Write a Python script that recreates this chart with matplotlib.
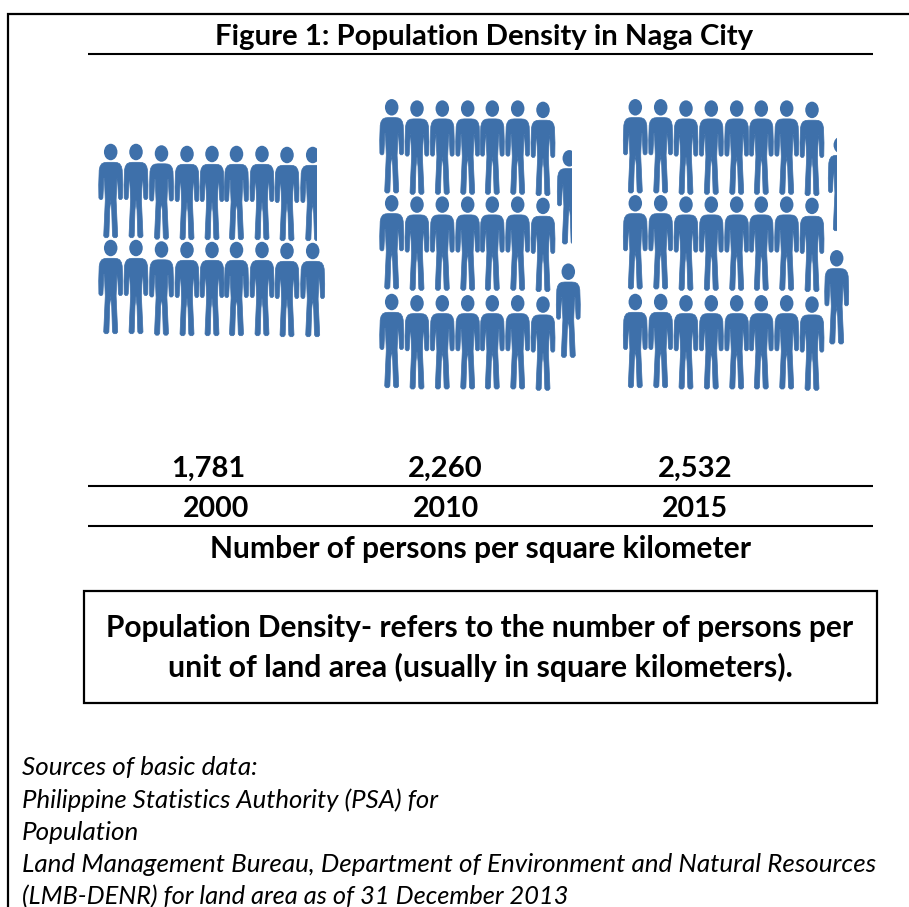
import matplotlib
matplotlib.use("Agg")
import matplotlib.pyplot as plt
from matplotlib.path import Path
from matplotlib.patches import PathPatch, Rectangle, Ellipse

# chart data
years = ["2000", "2010", "2015"]
density = ["1,781", "2,260", "2,532"]
# rows of whole icons + stray icons, one icon = 100 persons
icons_per_row = [9, 7, 8]
rows_count = [2, 3, 3]
partial_share = [0.67, 0.60, 0.35]

BLUE = "#3E70AA"
FONT = "Lato"

plt.rcParams["font.family"] = FONT
fig = plt.figure(figsize=(9.09, 9.07), dpi=100)
ax = fig.add_axes([0, 0, 1, 1])
ax.set_xlim(0, 909)
ax.set_ylim(907, 0)
ax.axis("off")

# right half of the person outline, measured from the head centre
half = [(0, 10.3), (3.5, 10.3), (6.5, 10.6), (9, 11.8), (10.7, 14.5), (11.5, 18), (12, 33), (11.8, 46),
        (10.6, 47.5), (8.8, 47.5), (7.8, 46), (6.8, 26), (6.3, 26), (5.4, 48), (7, 84), (5.6, 85.7),
        (3.2, 85.7), (1.8, 84), (1.0, 58), (0, 48)]
outline = half + [(-x, y) for x, y in reversed(half[:-1])]


def person(cx, cy, clip_to=None):
    verts = [(cx + x, cy + y) for x, y in outline]
    codes = [Path.MOVETO] + [Path.LINETO] * (len(verts) - 1)
    body = PathPatch(Path(verts, codes), fc=BLUE, ec=BLUE, lw=0.5, joinstyle="round")
    head = Ellipse((cx, cy), 13.5, 16.5, fc=BLUE, ec="none")
    for p in (body, head):
        ax.add_patch(p)
        if clip_to is not None:
            box = Rectangle((cx - 13, cy - 10), clip_to, 100, transform=ax.transData)
            p.set_clip_path(box)


# icon layout, one entry per group
col_x = [[110.7, 136, 161.5, 187, 212, 236.5, 262, 287, 312.7],
         [391.7, 417, 442.3, 467.7, 492.3, 517.7, 543],
         [635.3, 660.7, 686, 711.3, 736.7, 761.3, 786.7, 812]]
col_dy = [[0, 0, 1.5, 2, 2, 2, 2, 3, 3],
          [0, 1.3, 1.3, 1.3, 1.3, 1.3, 2.6],
          [0, 0, 1.3, 1.3, 1.3, 1.3, 1.3, 2.6]]
row_y = [[152, 248], [107.3, 203.3, 302], [107.3, 203.3, 302]]
whole_stray = [None, (568.3, 271.7), (836.7, 258.3)]
part_stray = [None, (569.3, 158.3), (840.3, 145)]

for g in range(3):
    for r in range(rows_count[g]):
        for c in range(icons_per_row[g]):
            share = None
            if g == 0 and r == 0 and c == 8:
                share = partial_share[0] * 24 + 1
            person(col_x[g][c], row_y[g][r] + col_dy[g][c], share)
    if whole_stray[g]:
        person(*whole_stray[g])
        person(*part_stray[g], partial_share[g] * 24 + 1)


def rule(x0, x1, y, lw=1.5):
    ax.plot([x0, x1], [y, y], color="black", lw=lw, solid_capstyle="butt")


# outer frame
ax.plot([8, 8, 909], [907, 14, 14], color="black", lw=1.6, solid_joinstyle="miter")
rule(88, 873, 54)
rule(88, 873, 486)
rule(88, 873, 526)
ax.add_patch(Rectangle((84, 590.5), 793, 112.5, fc="white", ec="black", lw=1.6))

ax.text(484, 37, "Figure 1: Population Density in Naga City", ha="center", va="center",
        fontsize=21.2, fontweight="bold")
for x, d in zip([208.5, 445.5, 695], density):
    ax.text(x, 469, d, ha="center", va="center", fontsize=21, fontweight="bold")
for x, yr in zip([216, 446, 695], years):
    ax.text(x, 509, yr, ha="center", va="center", fontsize=20.5, fontweight="bold")
ax.text(480, 549, "Number of persons per square kilometer", ha="center", va="center",
        fontsize=21.6, fontweight="bold")
ax.text(480, 628, "Population Density- refers to the number of persons per", ha="center", va="center",
        fontsize=21.5, fontweight="bold")
ax.text(480, 667, "unit of land area (usually in square kilometers).", ha="center", va="center",
        fontsize=21.8, fontweight="bold")

source = ["Sources of basic data:",
          "Philippine Statistics Authority (PSA) for",
          "Population",
          "Land Management Bureau, Department of Environment and Natural Resources",
          "(LMB-DENR) for land area as of 31 December 2013"]
source_size = [18.7, 18.5, 18.7, 18.7, 18.3]
for y, line, size in zip([767, 800, 832, 865, 897], source, source_size):
    ax.text(22, y, line, ha="left", va="center", fontsize=size, fontstyle="italic")

fig.savefig("out.png", dpi=100)
